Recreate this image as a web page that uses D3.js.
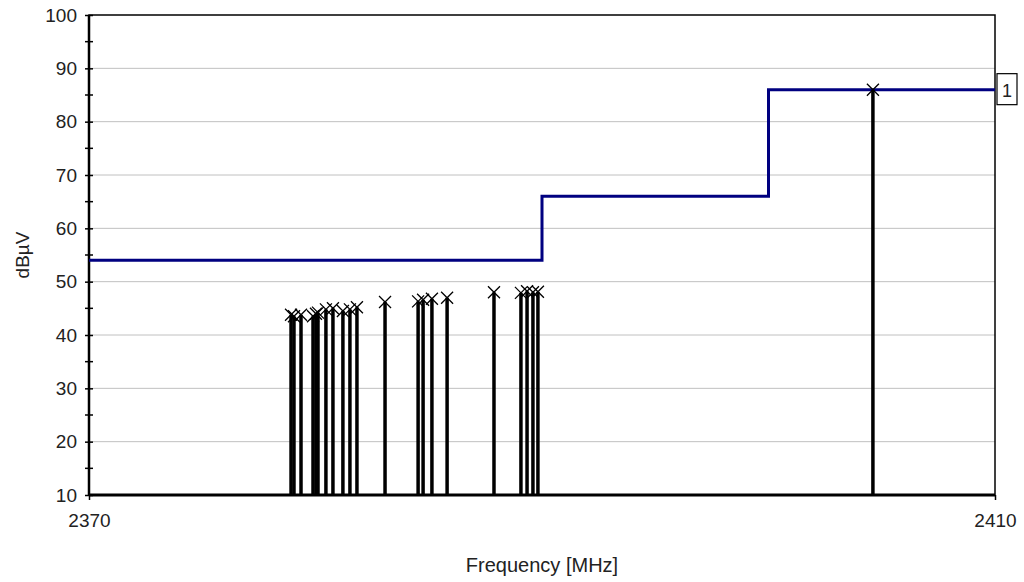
<!DOCTYPE html>
<html>
<head>
<meta charset="utf-8">
<script src="https://cdn.jsdelivr.net/npm/d3@7"></script>
<style>
  body { margin: 0; background: #fff; }
  svg { display: block; font-family: "Liberation Sans", Arial, sans-serif; }
</style>
</head>
<body>
<svg id="chart" width="1024" height="582"></svg>
<script>
// peaks (MHz, dBµV)
const peakFreq = [2378.92, 2379.05, 2379.36, 2379.89, 2380.02, 2380.11, 2380.46, 2380.77,
                  2381.21, 2381.52, 2381.83, 2383.07, 2384.53, 2384.75, 2385.14, 2385.81,
                  2387.88, 2389.07, 2389.34, 2389.60, 2389.82, 2404.61];
const peakLevel = [43.8, 43.5, 43.8, 43.5, 44.0, 44.2, 44.8, 45.0,
                   44.5, 44.8, 45.2, 46.2, 46.3, 46.6, 46.8, 47.0,
                   48.0, 47.9, 48.2, 48.0, 48.1, 86.0];
// limit line steps
const limitFreq = [2370, 2390, 2390, 2400, 2400, 2410];
const limitLevel = [54, 54, 66, 66, 86, 86];
const yTicks = [10, 20, 30, 40, 50, 60, 70, 80, 90, 100];
const yMinor = [15, 25, 35, 45, 55, 65, 75, 85, 95];
const xTicks = [2370, 2410];

const svg = d3.select("#chart");
const pl = 89, pr = 995, pt = 15, pb = 495;

const x = d3.scaleLinear().domain([2370, 2410]).range([pl, pr]);
const y = d3.scaleLinear().domain([10, 100]).range([pb, pt]);

// grid
svg.append("g").selectAll("line").data(yTicks.slice(1, -1)).enter().append("line")
    .attr("x1", pl).attr("x2", pr)
    .attr("y1", d => y(d)).attr("y2", d => y(d))
    .attr("stroke", "#c0c0c0").attr("stroke-width", 1);

// frame
svg.append("rect").attr("x", pl).attr("y", pt)
    .attr("width", pr - pl).attr("height", pb - pt)
    .attr("fill", "none").attr("stroke", "#000").attr("stroke-width", 1.5);

// y axis
const yAxis = svg.append("g").attr("transform", `translate(${pl},0)`)
    .call(d3.axisLeft(y).tickValues(yTicks).tickSize(4).tickPadding(8));
yAxis.select(".domain").remove();
yAxis.selectAll(".tick line").attr("x2", 4).attr("x1", -4).attr("stroke-width", 1.5);
yAxis.selectAll("text").attr("font-size", 19).attr("fill", "#222");
svg.append("g").selectAll("line").data(yMinor).enter().append("line")
    .attr("x1", pl - 4).attr("x2", pl + 4)
    .attr("y1", d => y(d)).attr("y2", d => y(d))
    .attr("stroke", "#000").attr("stroke-width", 1.5);
svg.append("line").attr("x1", pl).attr("x2", pl).attr("y1", pt).attr("y2", pb)
    .attr("stroke", "#000").attr("stroke-width", 2.5);

// x axis
const xAxis = svg.append("g").attr("transform", `translate(0,${pb})`)
    .call(d3.axisBottom(x).tickValues(xTicks).tickFormat(d3.format("d")).tickSize(5).tickPadding(14));
xAxis.select(".domain").remove();
xAxis.selectAll(".tick line").attr("stroke-width", 1.5);
xAxis.selectAll("text").attr("font-size", 19).attr("fill", "#222");

// baseline
svg.append("line").attr("x1", pl).attr("x2", pr).attr("y1", y(10)).attr("y2", y(10))
    .attr("stroke", "#000").attr("stroke-width", 3);

// limit line
const limitData = limitFreq.map((f, i) => [f, limitLevel[i]]);
svg.append("path").datum(limitData)
    .attr("d", d3.line().x(d => x(d[0])).y(d => y(d[1])))
    .attr("fill", "none").attr("stroke", "#000080").attr("stroke-width", 3);

// peaks
const peaks = peakFreq.map((f, i) => ({ f: f, v: peakLevel[i] }));
svg.append("g").selectAll("line").data(peaks).enter().append("line")
    .attr("x1", d => x(d.f)).attr("x2", d => x(d.f))
    .attr("y1", d => y(d.v)).attr("y2", y(10))
    .attr("stroke", "#000").attr("stroke-width", 3.5);
const m = 6;
const marks = svg.append("g").selectAll("g").data(peaks).enter().append("g")
    .attr("transform", d => `translate(${x(d.f)},${y(d.v)})`);
marks.append("path").attr("d", `M${-m},${-m}L${m},${m}M${-m},${m}L${m},${-m}`)
    .attr("stroke", "#000").attr("stroke-width", 1.3).attr("fill", "none");

// limit label box
svg.append("rect").attr("x", pr + 2).attr("y", y(86) - 16)
    .attr("width", 20).attr("height", 31)
    .attr("fill", "#fff").attr("stroke", "#000").attr("stroke-width", 1.2);
svg.append("text").attr("x", pr + 12).attr("y", y(86) + 7)
    .attr("text-anchor", "middle").attr("font-size", 18).attr("fill", "#222").text("1");

// titles
svg.append("text").attr("x", (pl + pr) / 2).attr("y", 572)
    .attr("text-anchor", "middle").attr("font-size", 20).attr("fill", "#222")
    .text("Frequency [MHz]");
svg.append("text").attr("transform", `translate(29,${(pt + pb) / 2}) rotate(-90)`)
    .attr("text-anchor", "middle").attr("font-size", 19).attr("fill", "#222")
    .text("dBµV");
</script>
</body>
</html>
